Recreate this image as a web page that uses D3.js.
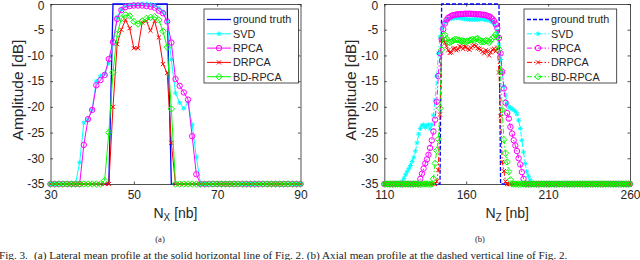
<!DOCTYPE html>
<html><head><meta charset="utf-8">
<script src="https://cdn.jsdelivr.net/npm/d3@7"></script>
<style>body{margin:0;background:#fff}svg{display:block}</style>
</head><body>
<svg id="c" width="640" height="260"></svg>
<script>
// ---------- data ----------
const seriesNames = ["ground truth", "SVD", "RPCA", "DRPCA", "BD-RPCA"];
const yTicks = [0, -5, -10, -15, -20, -25, -30, -35];
const xTicksA = [30, 50, 70, 90];
const xTicksB = [110, 160, 210, 260];
const xStartA = 30, xEndA = 90;
const xStartB = 110, xEndB = 260;

// Panel (a): lateral, N_X = 30..90
const gtA = [-35,-35,-35,-35,-35,-35,-35,-35,-35,-35,-35,-35,-35,-35,-35,
  0,0,0,0,0,0,0,0,0,0,0,0,0,0,
  -35,-35,-35,-35,-35,-35,-35,-35,-35,-35,-35,-35,-35,-35,-35,-35,-35,-35,-35,-35,-35,-35,-35,-35,-35,-35,-35,-35,-35,-35,-35,-35];
const svdA = [-35,-35,-35,-35,-35,-35,-35,
  -30.8,-23.1,-22.4,-20.5,-15.0,-14.0,-13.6,-11.5,-7.8,-2.5,-1.0,-0.4,-0.2,-0.1,-0.1,0,0,-0.1,-0.3,-0.8,-1.5,-3.5,-10.8,-17.3,-19.2,-20.3,-19.2,-23.5,-29.8,
  -35,-35,-35,-35,-35,-35,-35,-35,-35,-35,-35,-35,-35,-35,-35,-35,-35,-35,-35,-35,-35,-35,-35,-35,-35];
const rpcaA = [-35,-35,-35,-35,-35,-35,-35,-35,
  -27.4,-22.4,-20.6,-15.8,-14.8,-13.8,-10.7,-7.4,-2.9,-1.2,-0.6,-0.4,-0.3,-0.3,-0.3,-0.4,-0.5,-0.7,-1.3,-1.8,-3.4,-7.5,-14.6,-15.9,-17.2,-18.6,-25.7,-33.1,
  -35,-35,-35,-35,-35,-35,-35,-35,-35,-35,-35,-35,-35,-35,-35,-35,-35,-35,-35,-35,-35,-35,-35,-35,-35];
const drpcaA = [-35,-35,-35,-35,-35,-35,-35,-35,-35,-35,-35,-35,-35,-35,-35,
  -20.0,-7.8,-5.0,-3.1,-4.7,-8.6,-8.6,-3.6,-3.3,-5.2,-3.3,-6.5,-11.7,-13.4,-27.0,
  -35,-35,-35,-35,-35,-35,-35,-35,-35,-35,-35,-35,-35,-35,-35,-35,-35,-35,-35,-35,-35,-35,-35,-35,-35,-35,-35,-35,-35,-35,-35];
const bdA = [-35,-35,-35,-35,-35,-35,-35,-35,-35,-35,-35,-35,-35,
  -34.3,-25.0,-13.3,-5.9,-2.8,-2.1,-2.3,-3.4,-3.9,-3.3,-2.8,-2.6,-2.5,-3.1,-5.3,-8.4,-20.4,
  -35,-35,-35,-35,-35,-35,-35,-35,-35,-35,-35,-35,-35,-35,-35,-35,-35,-35,-35,-35,-35,-35,-35,-35,-35,-35,-35,-35,-35,-35,-35];

// Panel (b): axial, N_Z = 110..260
const gtB = [-35,-35,-35,-35,-35,-35,-35,-35,-35,-35,-35,-35,-35,-35,-35,-35,-35,-35,-35,-35,-35,-35,-35,-35,-35,-35,-35,-35,-35,-35,-35,-35,-35,-35,-35,
  0,0,0,0,0,0,0,0,0,0,0,0,0,0,0,0,0,0,0,0,0,0,0,0,0,0,0,0,0,0,0,0,0,0,0,0,
  -35,-35,-35,-35,-35,-35,-35,-35,-35,-35,-35,-35,-35,-35,-35,-35,-35,-35,-35,-35,-35,-35,-35,-35,-35,-35,-35,-35,-35,-35,-35,-35,-35,-35,-35,-35,-35,-35,-35,-35,
  -35,-35,-35,-35,-35,-35,-35,-35,-35,-35,-35,-35,-35,-35,-35,-35,-35,-35,-35,-35,-35,-35,-35,-35,-35,-35,-35,-35,-35,-35,-35,-35,-35,-35,-35,-35,-35,-35,-35,-35];
const svdB = [-35,-35,-35,-35,-35,-35,-35,-35,-35,-35,-35,
  -34.5,-33.9,-33.2,-32.6,-32.0,-31.4,-30.6,-29.8,-28.6,-27.0,-25.3,-24.2,-23.6,-23.5,-24.0,-23.6,-23.5,-24.3,-23.5,-21.6,
  -18.7,-14.0,-9.6,-6.4,-4.8,-4.0,-3.5,-3.2,-3.0,-2.9,-2.8,-2.8,-2.7,-2.7,-2.7,-2.7,-2.8,-2.8,-2.9,-2.9,
  -3.0,-3.0,-3.0,-3.0,-3.0,-3.0,-3.0,-3.0,-2.9,-2.9,-3.0,-3.1,-3.1,-3.2,-3.3,-3.5,-3.8,-4.3,-5.6,-8.0,
  -10.8,-13.3,-16.0,-17.7,-19.3,-20.0,-20.2,-20.4,-20.6,-20.9,-21.4,-22.6,-24.2,-26.5,-28.8,-31.0,-32.6,-33.5,-34.2,
  -35,-35,-35,-35,-35,-35,-35,-35,-35,-35,-35,-35,-35,-35,-35,-35,-35,-35,-35,-35,-35,-35,-35,-35,-35,-35,-35,-35,-35,-35,
  -35,-35,-35,-35,-35,-35,-35,-35,-35,-35,-35,-35,-35,-35,-35,-35,-35,-35,-35,-35,-35,-35,-35,-35,-35,-35,-35,-35,-35,-35,-35];
const rpcaB = [-35,-35,-35,-35,-35,-35,-35,-35,-35,-35,-35,-35,-35,-35,-35,-35,-35,-35,-35,-35,-35,-35,
  -34.0,-33.0,-32.0,-31.0,-30.2,-29.3,-28.0,-26.5,-24.8,-22.5,-19.0,-14.0,-9.6,-6.9,-4.9,-3.8,-3.1,-2.7,-2.5,-2.3,
  -2.2,-2.1,-2.05,-2.0,-2.0,-1.95,-1.95,-1.9,-1.9,-1.9,-1.9,-1.9,-1.95,-1.95,-2.0,-2.0,-2.0,-2.05,-2.1,-2.1,
  -2.2,-2.3,-2.4,-2.6,-2.9,-3.3,-3.9,-4.7,-6.6,-9.6,-13.2,-16.4,-19.2,-21.2,-22.3,-23.9,-25.2,-26.5,-27.5,-28.6,
  -30.0,-31.2,-32.7,-34.0,
  -35,-35,-35,-35,-35,-35,-35,-35,-35,-35,-35,-35,-35,-35,-35,-35,-35,-35,-35,-35,-35,-35,-35,-35,-35,-35,-35,-35,-35,-35,-35,-35,
  -35,-35,-35,-35,-35,-35,-35,-35,-35,-35,-35,-35,-35,-35,-35,-35,-35,-35,-35,-35,-35,-35,-35,-35,-35,-35,-35,-35,-35,-35,-35,-35,-35];
const drpcaB = [-35,-35,-35,-35,-35,-35,-35,-35,-35,-35,-35,-35,-35,-35,-35,-35,-35,-35,-35,-35,-35,-35,-35,-35,-35,-35,-35,-35,-35,-35,-35,-35,
  -34.5,-32.3,-21.5,-7.0,-6.8,-7.5,-8.2,-9.0,-9.5,-9.4,-8.7,-8.6,-9.0,-8.8,-8.2,-8.4,-8.7,-8.3,-8.4,-8.7,
  -8.9,-8.5,-8.2,-8.0,-8.2,-8.6,-8.7,-8.9,-9.3,-9.6,-9.0,-9.2,-10.0,-9.4,-8.9,-8.7,-9.2,-8.5,-13.3,-21.8,
  -30.7,-32.5,-34.5,
  -35,-35,-35,-35,-35,-35,-35,-35,-35,-35,-35,-35,-35,-35,-35,-35,-35,-35,-35,-35,-35,-35,-35,-35,-35,-35,-35,-35,-35,-35,-35,-35,-35,-35,-35,-35,-35,-35,
  -35,-35,-35,-35,-35,-35,-35,-35,-35,-35,-35,-35,-35,-35,-35,-35,-35,-35,-35,-35,-35,-35,-35,-35,-35,-35,-35,-35,-35,-35,-35,-35,-35,-35,-35,-35,-35,-35];
const bdB = [-35,-35,-35,-35,-35,-35,-35,-35,-35,-35,-35,-35,-35,-35,-35,-35,-35,-35,-35,-35,-35,-35,-35,-35,-35,-35,-35,-35,-35,-35,
  -34.0,-31.0,-28.5,-26.3,-20.3,-8.9,-6.2,-6.0,-6.8,-7.4,-7.5,-7.3,-7.1,-6.9,-6.9,-7.0,-7.1,-7.2,-7.2,-7.3,
  -7.3,-7.2,-7.1,-7.0,-6.9,-7.0,-6.8,-6.7,-7.0,-7.3,-7.3,-7.3,-7.1,-7.2,-7.5,-7.0,-6.7,-6.4,-5.9,-6.5,
  -8.8,-13.2,-20.6,-26.4,-29.0,-30.7,-32.6,-34.2,
  -35,-35,-35,-35,-35,-35,-35,-35,-35,-35,-35,-35,-35,-35,-35,-35,-35,-35,-35,-35,-35,-35,-35,-35,-35,-35,-35,-35,-35,-35,-35,-35,-35,-35,-35,-35,
  -35,-35,-35,-35,-35,-35,-35,-35,-35,-35,-35,-35,-35,-35,-35,-35,-35,-35,-35,-35,-35,-35,-35,-35,-35,-35,-35,-35,-35,-35,-35,-35,-35,-35,-35,-35,-35];

// ---------- styling ----------
const colors = ["#0000ff", "#00ffff", "#ff00ff", "#ff0000", "#00ff00"];
const markers = ["none", "asterisk", "circle", "cross", "diamond"];
const axisColor = "#262626";
const font = "'Liberation Sans', Arial, Helvetica, sans-serif";
const serif = "'Liberation Serif', 'Times New Roman', serif";

const svg = d3.select("#c");

function markerPath(type) {
  const p = d3.path();
  if (type === "circle") { p.moveTo(2.7, 0); p.arc(0, 0, 2.7, 0, 2 * Math.PI); }
  else if (type === "diamond") { p.moveTo(0, -3.2); p.lineTo(3.2, 0); p.lineTo(0, 3.2); p.lineTo(-3.2, 0); p.closePath(); }
  else if (type === "cross") { const s = 2.1; p.moveTo(-s, -s); p.lineTo(s, s); p.moveTo(-s, s); p.lineTo(s, -s); }
  else if (type === "asterisk") { const s = 2.4, d = 1.7; p.moveTo(-s, 0); p.lineTo(s, 0); p.moveTo(0, -s); p.lineTo(0, s); p.moveTo(-d, -d); p.lineTo(d, d); p.moveTo(-d, d); p.lineTo(d, -d); }
  return p.toString();
}

function drawPanel(cfg) {
  const g = svg.append("g");
  const xs = d3.range(cfg.xStart, cfg.xEnd + 1);
  const x = d3.scaleLinear().domain([cfg.xStart, cfg.xEnd]).range([cfg.left, cfg.right]);
  const y = d3.scaleLinear().domain([-35, 0]).range([cfg.bottom, cfg.top]);

  const tickLen = 2.5;
  const axB = g.append("g").attr("transform", `translate(0,${cfg.bottom})`)
    .call(d3.axisBottom(x).tickValues(cfg.xTicks).tickSizeInner(-tickLen).tickSizeOuter(0).tickPadding(6));
  const axT = g.append("g").attr("transform", `translate(0,${cfg.top})`)
    .call(d3.axisTop(x).tickValues(cfg.xTicks).tickSizeInner(-tickLen).tickSizeOuter(0).tickFormat(""));
  const axL = g.append("g").attr("transform", `translate(${cfg.left},0)`)
    .call(d3.axisLeft(y).tickValues(yTicks).tickSizeInner(-tickLen).tickSizeOuter(0).tickPadding(6).tickFormat(d => d === 0 ? "0" : "-" + Math.abs(d)));
  const axR = g.append("g").attr("transform", `translate(${cfg.right},0)`)
    .call(d3.axisRight(y).tickValues(yTicks).tickSizeInner(-tickLen).tickSizeOuter(0).tickFormat(""));
  [axB, axT, axL, axR].forEach(a => {
    a.select(".domain").attr("stroke", axisColor).attr("stroke-width", 0.8);
    a.selectAll(".tick line").attr("stroke", axisColor).attr("stroke-width", 0.8);
    a.selectAll("text").attr("fill", axisColor).style("font-family", font).style("font-size", "12px");
  });
  axL.selectAll(".tick").filter(d => d === 0).select("text").attr("y", 1.2);

  // series
  const clipId = "clip" + cfg.id;
  g.append("clipPath").attr("id", clipId).append("rect")
    .attr("x", cfg.left - 4).attr("y", cfg.top - 4).attr("width", cfg.right - cfg.left + 8).attr("height", cfg.bottom - cfg.top + 8);
  const plot = g.append("g").attr("clip-path", `url(#${clipId})`);
  const line = d3.line().x(d => x(d[0])).y(d => y(d[1]));
  cfg.series.forEach((vals, i) => {
    const pts = xs.map((xv, k) => [xv, vals[k]]);
    plot.append("path").datum(pts).attr("d", line).attr("fill", "none")
      .attr("stroke", colors[i]).attr("stroke-width", i === 0 ? 1.3 : 1)
      .attr("stroke-dasharray", cfg.dash[i]);
    if (markers[i] !== "none") {
      plot.append("g").selectAll("path").data(pts).join("path")
        .attr("transform", d => `translate(${x(d[0])},${y(d[1])})`)
        .attr("d", markerPath(markers[i])).attr("fill", "none")
        .attr("stroke", colors[i]).attr("stroke-width", 1);
    }
  });

  // axis labels
  g.append("text").attr("transform", `translate(${cfg.left - 28},${(cfg.top + cfg.bottom) / 2 - 4}) rotate(-90)`)
    .attr("text-anchor", "middle").attr("fill", axisColor)
    .style("font-family", font).style("font-size", "15.5px").text("Amplitude [dB]");
  const xl = g.append("text").attr("x", (cfg.left + cfg.right) / 2).attr("y", 218)
    .attr("text-anchor", "middle").attr("fill", axisColor)
    .style("font-family", font).style("font-size", "14px");
  xl.append("tspan").text("N");
  xl.append("tspan").attr("dy", 3).style("font-size", "10px").text(cfg.sub);
  xl.append("tspan").attr("dy", -3).text(" [nb]");

  // legend
  const lg = g.append("g");
  lg.append("rect").attr("x", cfg.legX).attr("y", 9).attr("width", cfg.legW).attr("height", 74)
    .attr("fill", "#fff").attr("stroke", axisColor).attr("stroke-width", 0.8);
  seriesNames.forEach((name, i) => {
    const yy = 19.5 + i * 14.3;
    const x0 = cfg.legX + 3, x1 = x0 + cfg.legLine;
    lg.append("line").attr("x1", x0).attr("x2", x1).attr("y1", yy).attr("y2", yy)
      .attr("stroke", colors[i]).attr("stroke-width", i === 0 ? 1.3 : 1).attr("stroke-dasharray", cfg.dash[i]);
    if (markers[i] !== "none") {
      lg.append("path").attr("transform", `translate(${(x0 + x1) / 2},${yy})`).attr("d", markerPath(markers[i]))
        .attr("fill", "none").attr("stroke", colors[i]).attr("stroke-width", 1);
    }
    lg.append("text").attr("x", x1 + 2).attr("y", yy + 3.8).attr("fill", axisColor)
      .style("font-family", font).style("font-size", "10.8px").text(name);
  });

  // sub caption
  svg.append("text").attr("x", cfg.capX).attr("y", 242).attr("text-anchor", "middle")
    .style("font-family", serif).style("font-size", "8.5px").attr("fill", "#222").text(cfg.cap);
}

drawPanel({ id: "a", xStart: xStartA, xEnd: xEndA, left: 50.5, right: 300.5, top: 4, bottom: 184,
  xTicks: xTicksA, series: [gtA, svdA, rpcaA, drpcaA, bdA], dash: [null, null, null, null, null],
  sub: "X", legX: 204, legW: 94.5, legLine: 24, cap: "(a)", capX: 160 });
drawPanel({ id: "b", xStart: xStartB, xEnd: xEndB, left: 384.3, right: 630, top: 4, bottom: 184,
  xTicks: xTicksB, series: [gtB, svdB, rpcaB, drpcaB, bdB], dash: ["4,2", "5,2,1.5,2", "5,2,1.5,2", "5,2,1.5,2", "5,2,1.5,2"],
  sub: "Z", legX: 524, legW: 92.7, legLine: 22, cap: "(b)", capX: 480 });

// figure caption (partially cut off at bottom in the reference)
const cap = svg.append("g").style("font-family", serif).style("font-size", "11.2px").attr("fill", "#222");
cap.append("text").attr("x", -1).attr("y", 258.5).text("Fig. 3.");
cap.append("text").attr("x", 34).attr("y", 258.5)
  .text("(a) Lateral mean profile at the solid horizontal line of Fig. 2. (b) Axial mean profile at the dashed vertical line of Fig. 2.");
</script>
</body></html>
